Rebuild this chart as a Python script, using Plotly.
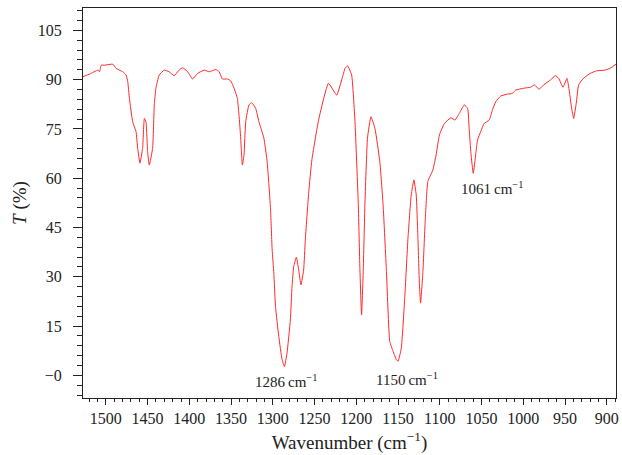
import plotly.graph_objects as go

wavenumber = [
    1527.4, 1519.4, 1509.5, 1507.5, 1505.6, 1501.5, 1491.7, 1487.7, 1479.8, 1475.8,
    1473.8, 1471.8, 1467.9, 1463.9, 1461.9, 1459.2, 1456.0, 1453.9, 1452.0, 1450.0,
    1448.0, 1444.0, 1442.0, 1440.1, 1436.1, 1430.1, 1424.2, 1418.2, 1412.3, 1408.0,
    1402.0, 1396.1, 1390.1, 1382.1, 1376.2, 1368.2, 1364.3, 1360.4, 1354.4, 1350.4,
    1346.4, 1342.5, 1340.5, 1338.5, 1336.5, 1334.5, 1332.5, 1328.6, 1325.4, 1320.6,
    1316.7, 1310.7, 1306.8, 1304.8, 1302.7, 1300.8, 1298.8, 1296.8, 1292.9, 1288.9,
    1286.1, 1283.0, 1279.0, 1277.0, 1275.0, 1271.8, 1269.0, 1266.3, 1263.1, 1261.1,
    1257.1, 1253.2, 1245.2, 1233.3, 1223.5, 1213.5, 1210.5, 1205.6, 1201.6, 1197.6,
    1195.7, 1193.7, 1191.7, 1189.7, 1186.6, 1182.5, 1177.7, 1171.8, 1167.9, 1163.9,
    1159.9, 1155.9, 1152.0, 1150.0, 1146.1, 1142.0, 1138.1, 1134.2, 1131.0, 1128.2,
    1126.2, 1124.2, 1123.0, 1120.2, 1117.5, 1114.3, 1108.3, 1104.4, 1100.4, 1094.4,
    1086.6, 1081.8, 1076.5, 1070.6, 1066.7, 1064.7, 1062.7, 1059.9, 1056.8, 1054.8,
    1050.8, 1046.8, 1040.8, 1036.9, 1032.9, 1027.0, 1019.0, 1013.1, 1009.2, 999.2,
    991.3, 986.5, 981.3, 975.4, 967.5, 961.5, 957.5, 952.4, 947.6, 945.6,
    941.7, 939.6, 936.5, 933.7, 927.8, 919.9, 911.9, 902.0, 895.0, 888.9,
]
transmittance = [
    90.9, 91.7, 92.9, 92.4, 94.4, 94.4, 94.7, 93.4, 92.4, 91.4,
    89.4, 84.3, 77.2, 74.2, 69.1, 64.6, 69.1, 78.2, 77.2, 68.1,
    64.0, 69.1, 82.3, 87.4, 91.4, 92.9, 92.4, 91.2, 92.9, 93.6,
    92.4, 90.2, 91.9, 92.9, 92.4, 93.1, 92.4, 90.2, 90.2, 89.6,
    87.4, 84.3, 79.2, 72.2, 64.0, 67.1, 77.2, 82.3, 83.0, 81.3,
    77.2, 72.2, 65.0, 58.5, 50.4, 38.2, 31.1, 21.0, 11.9, 4.8,
    2.7, 6.8, 16.9, 27.1, 33.1, 36.0, 32.1, 27.6, 32.1, 41.2,
    55.4, 65.6, 77.7, 88.9, 85.3, 93.4, 94.2, 91.4, 77.2, 51.9,
    32.6, 18.4, 31.6, 51.9, 72.2, 78.7, 75.2, 65.0, 51.9, 31.6,
    10.3, 7.3, 4.8, 4.3, 8.3, 23.5, 41.8, 54.9, 59.5, 54.9,
    41.8, 26.6, 22.0, 31.6, 46.8, 59.0, 62.5, 67.1, 73.2, 76.7,
    78.4, 77.7, 79.8, 82.3, 81.3, 74.7, 67.6, 61.5, 67.6, 71.6,
    74.3, 76.7, 77.7, 80.8, 83.3, 85.0, 85.6, 85.8, 86.8, 87.4,
    87.7, 88.4, 87.1, 88.4, 89.9, 91.2, 90.4, 87.7, 90.4, 87.8,
    80.8, 78.2, 82.8, 88.4, 90.4, 91.9, 92.7, 92.9, 93.6, 94.7,
]

y_tickvals = [0, 15, 30, 45, 60, 75, 90, 105]
y_ticktext = ["\u22120", "15", "30", "45", "60", "75", "90", "105"]
x_tickvals = [1500, 1450, 1400, 1350, 1300, 1250, 1200, 1150, 1100, 1050, 1000, 950, 900]

peak_labels = ["1286", "1150", "1061"]
peak_label_x = [1283.3, 1139.3, 1036.9]
peak_label_y = [-1.6, -1.0, 57.1]

FONT = "Liberation Serif"

fig = go.Figure()
fig.add_trace(go.Scatter(
    x=wavenumber, y=transmittance, mode="lines",
    line=dict(color="rgb(255,40,40)", width=1, shape="spline", smoothing=0.4),
    showlegend=False, hoverinfo="skip",
))

for lab, lx, ly in zip(peak_labels, peak_label_x, peak_label_y):
    fig.add_annotation(
        x=lx, y=ly, xref="x", yref="y",
        text=lab + "\u2009cm<sup>\u22121</sup>",
        showarrow=False,
        font=dict(family=FONT, size=15, color="#222"),
    )

fig.update_layout(
    width=622, height=455,
    margin=dict(l=83, r=3, t=8, b=57),
    paper_bgcolor="white", plot_bgcolor="white",
    font=dict(family=FONT, size=16, color="#222"),
)
fig.update_xaxes(
    range=[1527.4, 888.9],
    tickmode="array", tickvals=x_tickvals,
    ticks="outside", ticklen=6, tickwidth=1, tickcolor="#222",
    minor=dict(dtick=10, tick0=900, ticks="outside", ticklen=3, tickwidth=1, tickcolor="#222"),
    showline=True, linecolor="#222", linewidth=1, mirror=True,
    showgrid=False, zeroline=False,
    tickfont=dict(family=FONT, size=16, color="#222"),
    title=dict(text="Wavenumber (cm<sup>\u22121</sup>)", font=dict(family=FONT, size=19, color="#222"), standoff=9),
)
fig.update_yaxes(
    range=[-6.87, 111.8],
    tickmode="array", tickvals=y_tickvals, ticktext=y_ticktext,
    ticks="outside", ticklen=9, tickwidth=1, tickcolor="#222",
    minor=dict(dtick=3, tick0=0, ticks="outside", ticklen=5, tickwidth=1, tickcolor="#222"),
    showline=True, linecolor="#222", linewidth=1, mirror=True,
    showgrid=False, zeroline=False,
    tickfont=dict(family=FONT, size=16, color="#222"),
    ticklabelstandoff=8,
    title=dict(text="<i>T</i> (%)", font=dict(family=FONT, size=19, color="#222"), standoff=6),
)

fig.write_html("out.html")
